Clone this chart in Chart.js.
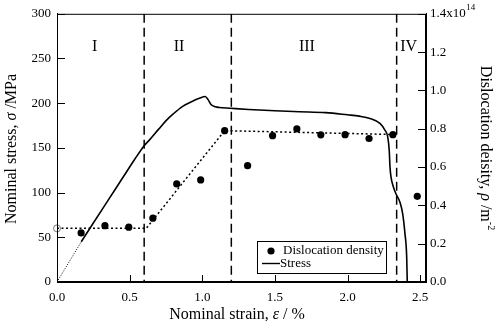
<!DOCTYPE html>
<html lang="en">
<head>
<meta charset="utf-8">
<title>Nominal stress and dislocation density vs nominal strain</title>
<script src="https://cdn.jsdelivr.net/npm/chart.js@4.4.1/dist/chart.umd.min.js"></script>
<style>
  body { margin: 0; background: #fff; }
</style>
</head>
<body>
<canvas id="c" width="500" height="328"></canvas>
<script>
// stress-strain curve (left axis, MPa)
var stressStrain = [0.167, 0.25, 0.35, 0.45, 0.534, 0.6, 0.637, 0.7, 0.751, 0.8, 0.865, 0.93, 0.98, 1.02, 1.04, 1.06, 1.09, 1.117, 1.19, 1.32, 1.5, 1.667, 1.85, 2.0, 2.08, 2.154, 2.223, 2.257, 2.276, 2.287, 2.292, 2.299, 2.315, 2.338, 2.36, 2.379, 2.395, 2.407, 2.411];
var stressValues = [45, 66, 91, 116, 137, 152.5, 159, 171, 180.5, 188, 196.5, 202, 205.5, 207.5, 204, 198.5, 196, 195.2, 194.4, 193, 191.5, 190.5, 189.5, 187, 185.5, 183, 177.5, 170, 162.6, 147, 129, 117.6, 106.5, 97, 89.6, 76.8, 54.4, 28.3, 0];
// extrapolated elastic part, thin dotted
var elasticStrain = [0, 0.167];
var elasticStress = [0, 45];

// dislocation density (right axis, x10^14 m^-2)
var densityStrain = [0.166, 0.33, 0.494, 0.66, 0.824, 0.989, 1.154, 1.312, 1.484, 1.651, 1.816, 1.983, 2.148, 2.312, 2.48];
var densityValues = [0.256, 0.294, 0.286, 0.333, 0.512, 0.533, 0.79, 0.607, 0.764, 0.799, 0.768, 0.769, 0.749, 0.769, 0.447];
var initialStrain = [0];
var initialDensity = [0.28];
var trendStrain = [0, 0.614, 1.154, 2.31];
var trendDensity = [0.28, 0.28, 0.79, 0.77];

// stage boundaries and names
var stageBounds = [0.6, 1.2, 2.338];
var stageNames = ['I', 'II', 'III', 'IV'];
var stageNameX = [0.26, 0.84, 1.72, 2.42];
var stageNameY = 263;

var strainTicks = [0, 0.5, 1.0, 1.5, 2.0, 2.5];
var stressTicks = [0, 50, 100, 150, 200, 250, 300];
var densityTicks = [0, 0.2, 0.4, 0.6, 0.8, 1.0, 1.2, 1.4];

var SERIF = '"Liberation Serif", "Times New Roman", serif';

function pts(xs, ys) {
  return xs.map(function (x, i) { return { x: x, y: ys[i] }; });
}

var datasets = [
  { label: 'Stress', data: pts(stressStrain, stressValues), yAxisID: 'y', borderColor: '#000', borderWidth: 1.6, pointRadius: 0, cubicInterpolationMode: 'monotone' },
  { label: 'elastic', data: pts(elasticStrain, elasticStress), yAxisID: 'y', borderColor: '#000', borderWidth: 1, borderDash: [1, 1.5], pointRadius: 0 },
  { label: 'trend', data: pts(trendStrain, trendDensity), yAxisID: 'y1', borderColor: '#000', borderWidth: 1.5, borderDash: [2, 2.5], pointRadius: 0 },
  { label: 'Dislocation density', data: pts(densityStrain, densityValues), yAxisID: 'y1', showLine: false, pointRadius: 3.6, pointBackgroundColor: '#000', pointBorderColor: '#000', pointBorderWidth: 0 },
  { label: 'start', data: pts(initialStrain, initialDensity), yAxisID: 'y1', showLine: false, pointRadius: 3.5, pointBackgroundColor: '#fff', pointBorderColor: '#777', pointBorderWidth: 1, clip: false }
];
stageBounds.forEach(function (b) {
  datasets.push({ label: 'stage', data: [{ x: b, y: 300 }, { x: b, y: 0 }], yAxisID: 'y', borderColor: '#000', borderWidth: 1.5, borderDash: [9, 5], pointRadius: 0 });
});

function fixedTicks(list) {
  return function (scale) { scale.ticks = list.map(function (v) { return { value: v }; }); };
}

function richText(ctx, segs, cx, cy, angle) {
  var total = 0;
  segs.forEach(function (s) { ctx.font = s.font; s.w = ctx.measureText(s.t).width; total += s.w; });
  ctx.save();
  ctx.translate(cx, cy);
  ctx.rotate(angle);
  ctx.textAlign = 'left';
  ctx.textBaseline = 'middle';
  ctx.fillStyle = '#000';
  var x = -total / 2;
  segs.forEach(function (s) {
    ctx.font = s.font;
    ctx.fillText(s.t, x, s.dy || 0);
    x += s.w;
  });
  ctx.restore();
}

var decor = {
  id: 'decor',
  afterDraw: function (chart) {
    var ctx = chart.ctx, a = chart.chartArea;
    var sx = chart.scales.x, sy = chart.scales.y, sr = chart.scales.y1;
    var f16 = '16px ' + SERIF, i16 = 'italic 16px ' + SERIF;
    ctx.save();
    ctx.strokeStyle = '#000';
    ctx.lineWidth = 1;
    ctx.strokeRect(a.left + 0.5, a.top + 0.5, a.right - a.left - 1, a.bottom - a.top - 1);
    // inward ticks
    ctx.beginPath();
    strainTicks.forEach(function (v) { var p = Math.round(sx.getPixelForValue(v)) + 0.5; ctx.moveTo(p, a.bottom); ctx.lineTo(p, a.bottom - 7); });
    stressTicks.forEach(function (v) { var p = Math.round(sy.getPixelForValue(v)) + 0.5; ctx.moveTo(a.left, p); ctx.lineTo(a.left + 8, p); });
    densityTicks.forEach(function (v) { var p = Math.round(sr.getPixelForValue(v)) + 0.5; ctx.moveTo(a.right, p); ctx.lineTo(a.right - 8, p); });
    ctx.stroke();

    // stage names
    ctx.fillStyle = '#000';
    ctx.font = f16;
    ctx.textAlign = 'center';
    ctx.textBaseline = 'middle';
    stageNames.forEach(function (n, i) {
      ctx.fillText(n, sx.getPixelForValue(stageNameX[i]), sy.getPixelForValue(stageNameY));
    });

    // 1.4x10^14 at the top of the right axis
    ctx.textAlign = 'left';
    ctx.font = '13px ' + SERIF;
    var ty = sr.getPixelForValue(1.4);
    ctx.fillText('1.4x10', a.right + 4, ty);
    var w = ctx.measureText('1.4x10').width;
    ctx.font = '9px ' + SERIF;
    ctx.fillText('14', a.right + 4 + w + 0.5, ty - 6);

    // legend
    var lx = a.left + 200, ly = a.bottom - 41;
    ctx.fillStyle = '#fff';
    ctx.fillRect(lx, ly, 130, 33);
    ctx.strokeRect(lx + 0.5, ly + 0.5, 129, 32);
    ctx.fillStyle = '#000';
    ctx.beginPath();
    ctx.arc(lx + 14, ly + 10, 3.6, 0, Math.PI * 2);
    ctx.fill();
    ctx.font = '13px ' + SERIF;
    ctx.fillText('Dislocation density', lx + 26, ly + 10);
    ctx.beginPath();
    ctx.lineWidth = 1.4;
    ctx.moveTo(lx + 5, ly + 22.5);
    ctx.lineTo(lx + 23, ly + 22.5);
    ctx.stroke();
    ctx.fillText('Stress', lx + 23, ly + 23);
    ctx.restore();

    // axis titles
    richText(ctx, [{ t: 'Nominal strain, ', font: f16 }, { t: '\u03b5', font: i16 }, { t: ' / %', font: f16 }], 237, 315, 0);
    richText(ctx, [{ t: 'Nominal stress, ', font: f16 }, { t: '\u03c3', font: i16 }, { t: ' /MPa', font: f16 }], 12, 149, -Math.PI / 2);
    richText(ctx, [{ t: 'Dislocation deisity, ', font: f16 }, { t: '\u03c1', font: i16 }, { t: ' /m', font: f16 }, { t: '-2', font: '10px ' + SERIF, dy: -6 }], 485, 148, Math.PI / 2);
  }
};

var tickFont = { family: SERIF, size: 13 };

new Chart(document.getElementById('c'), {
  type: 'line',
  data: { datasets: datasets },
  options: {
    responsive: false,
    animation: false,
    layout: { padding: { top: 13, left: 0, right: 0, bottom: 0 } },
    plugins: { legend: { display: false }, tooltip: { enabled: false } },
    scales: {
      x: {
        type: 'linear', min: 0, max: 2.54,
        afterBuildTicks: fixedTicks(strainTicks),
        afterFit: function (s) { s.height = 46; },
        grid: { display: false, drawTicks: false },
        border: { display: true, color: '#000', width: 1 },
        ticks: { color: '#000', font: tickFont, padding: 8, maxRotation: 0, callback: function (v) { return v.toFixed(1); } }
      },
      y: {
        type: 'linear', position: 'left', min: 0, max: 300,
        afterBuildTicks: fixedTicks(stressTicks),
        afterFit: function (s) { s.width = 57; },
        grid: { display: false, drawTicks: false },
        border: { display: true, color: '#000', width: 1 },
        ticks: { color: '#000', font: tickFont, padding: 6 }
      },
      y1: {
        type: 'linear', position: 'right', min: 0, max: 1.4,
        afterBuildTicks: fixedTicks(densityTicks),
        afterFit: function (s) { s.width = 74; },
        grid: { display: false, drawTicks: false },
        border: { display: true, color: '#000', width: 1 },
        ticks: { color: '#000', font: tickFont, padding: 4, callback: function (v) { return v >= 1.39 ? '' : v.toFixed(1); } }
      }
    }
  },
  plugins: [decor]
});
</script>
</body>
</html>
